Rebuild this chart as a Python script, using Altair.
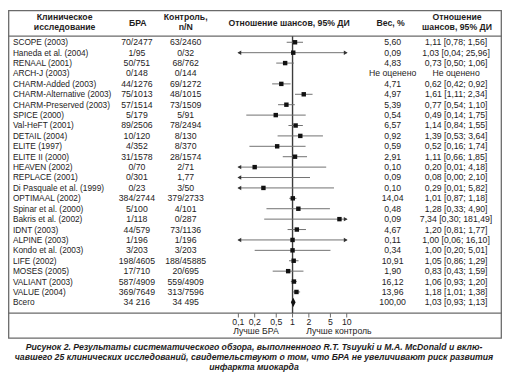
import altair as alt
import pandas as pd
import numpy as np

# ---------------- data ----------------
studies = ["SCOPE (2003)", "Haneda et al. (2004)", "RENAAL (2001)", "ARCH-J (2003)",
           "CHARM-Added (2003)", "CHARM-Alternative (2003)", "CHARM-Preserved (2003)",
           "SPICE (2000)", "Val-HeFT (2001)", "DETAIL (2004)", "ELITE (1997)",
           "ELITE II (2000)", "HEAVEN (2002)", "REPLACE (2001)", "Di Pasquale et al. (1999)",
           "OPTIMAAL (2002)", "Spinar et al. (2000)", "Bakris et al. (2002)", "IDNT (2003)",
           "ALPINE (2003)", "Kondo et al. (2003)", "LIFE (2002)", "MOSES (2005)",
           "VALIANT (2003)", "VALUE (2004)", "Всего"]
bra = ["70/2477", "1/95", "50/751", "0/148", "44/1276", "75/1013", "57/1514", "5/179",
       "89/2506", "10/120", "4/352", "31/1578", "0/70", "0/301", "0/23", "384/2744",
       "5/100", "1/118", "44/579", "1/196", "3/203", "198/4605", "17/710", "587/4909",
       "369/7649", "34 216"]
ctrl = ["63/2460", "0/32", "68/762", "0/144", "69/1272", "48/1015", "73/1509", "5/91",
        "78/2494", "8/130", "8/370", "28/1574", "2/71", "1,77", "3/50", "379/2733",
        "4/101", "0/287", "73/1136", "1/196", "3/203", "188/45885", "20/695", "559/4909",
        "313/7596", "34 495"]
weight = ["5,60", "0,09", "4,83", "Не оценено", "4,71", "4,97", "5,39", "0,54", "6,57",
          "0,92", "0,59", "2,91", "0,10", "0,09", "0,10", "14,04", "0,48", "0,09", "4,67",
          "0,11", "0,34", "10,91", "1,90", "16,12", "13,96", "100,00"]
or_text = ["1,11 [0,78; 1,56]", "1,03 [0,04; 25,96]", "0,73 [0,50; 1,06]", "Не оценено",
           "0,62 [0,42; 0,92]", "1,61 [1,11; 2,34]", "0,77 [0,54; 1,10]", "0,49 [0,14; 1,75]",
           "1,14 [0,84; 1,55]", "1,39 [0,53; 3,64]", "0,52 [0,16; 1,74]", "1,11 [0,66; 1,85]",
           "0,20 [0,01; 4,18]", "0,08 [0,00; 2,10]", "0,29 [0,01; 5,82]", "1,01 [0,87; 1,18]",
           "1,28 [0,33; 4,90]", "7,34 [0,30; 181,49]", "1,20 [0,81; 1,77]",
           "1,00 [0,06; 16,10]", "1,00 [0,20; 5,01]", "1,05 [0,86; 1,29]",
           "0,83 [0,43; 1,59]", "1,06 [0,93; 1,20]", "1,18 [1,01; 1,38]", "1,03 [0,93; 1,13]"]
or_est = [1.11, 1.03, 0.73, None, 0.62, 1.61, 0.77, 0.49, 1.14, 1.39, 0.52, 1.11, 0.20,
          0.08, 0.29, 1.01, 1.28, 7.34, 1.20, 1.00, 1.00, 1.05, 0.83, 1.06, 1.18, 1.03]
or_lo = [0.78, 0.04, 0.50, None, 0.42, 1.11, 0.54, 0.14, 0.84, 0.53, 0.16, 0.66, 0.01,
         0.00, 0.01, 0.87, 0.33, 0.30, 0.81, 0.06, 0.20, 0.86, 0.43, 0.93, 1.01, 0.93]
or_hi = [1.56, 25.96, 1.06, None, 0.92, 2.34, 1.10, 1.75, 1.55, 3.64, 1.74, 1.85, 4.18,
         2.10, 5.82, 1.18, 4.90, 181.49, 1.77, 16.10, 5.01, 1.29, 1.59, 1.20, 1.38, 1.13]
axis_ticks = [0.1, 0.2, 0.5, 1, 2, 5, 10]
axis_labels = ["0,1", "0,2", "0,5", "1", "2", "5", "10"]
axis_domain = [0.1, 10]
caption = ["Рисунок 2. Результаты систематического обзора, выполненного R.T. Tsuyuki и M.A. McDonald и вклю-",
           "чавшего 25 клинических исследований, свидетельствуют о том, что БРА не увеличивают риск развития",
           "инфаркта миокарда"]

# ---------------- layout helpers ----------------
W, H = 500, 366
def X(r):
    return (r - 2) * 0.988
def Y(r):
    return (r - 1) * 0.975

FONT = "Liberation Sans"
INK = "#1e1c1c"
LINE = "#6a6a6a"
NUM = 8.8

n = len(studies)
df = pd.DataFrame({"row": list(range(n)), "study": studies, "bra": bra, "ctrl": ctrl,
                   "weight": weight, "ortext": or_text,
                   "est": or_est, "lo": or_lo, "hi": or_hi})
df["is_total"] = df["study"] == "Всего"
lo_b, hi_b = axis_domain
f = df.dropna(subset=["est"]).copy()
f["lo_c"] = f["lo"].clip(lower=lo_b, upper=hi_b)
f["hi_c"] = f["hi"].clip(lower=lo_b, upper=hi_b)
f["larrow"] = lo_b
f["rarrow"] = hi_b

xs = alt.Scale(type="log", domain=axis_domain, range=[X(238), X(349)], nice=False)
ys = alt.Scale(domain=[0, n - 1], range=[Y(34.3), Y(304.3)], nice=False, zero=False)
yenc = alt.Y("row:Q", scale=ys, axis=None)

base = alt.Chart(df)

def col(field, x, align, size=NUM):
    return base.mark_text(align=align, baseline="middle", font=FONT, fontSize=size,
                          color=INK).encode(x=alt.value(x), y=yenc, text=f"{field}:N")

def label(txt, x, y, size=NUM, bold=False, italic=False, align="center"):
    kw = dict(align=align, baseline="middle", font=FONT, fontSize=size, color=INK)
    if bold:
        kw["fontWeight"] = "bold"
    if italic:
        kw["fontStyle"] = "italic"
    return alt.Chart(pd.DataFrame({"t": [txt]})).mark_text(**kw).encode(
        x=alt.value(x), y=alt.value(y), text="t:N")

one = pd.DataFrame({"a": [0]})

# table frame and lines
frame = alt.Chart(one).mark_rect(fillOpacity=0, stroke=LINE, strokeWidth=1.3).encode(
    x=alt.value(0.7), x2=alt.value(W - 0.7), y=alt.value(Y(1.5)), y2=alt.value(Y(341.5)))
hline1 = alt.Chart(one).mark_rule(color=LINE, strokeWidth=1.3).encode(
    x=alt.value(0), x2=alt.value(W), y=alt.value(Y(28)))
hline2 = alt.Chart(one).mark_rule(color=LINE, strokeWidth=1.2).encode(
    x=alt.value(0), x2=alt.value(W), y=alt.value(Y(315.5)))

# forest
vline = alt.Chart(one).mark_rule(color="#3c3c3c", strokeWidth=1.4).encode(
    x=alt.X(datum=1, type="quantitative", scale=xs, axis=None),
    y=alt.value(Y(28)), y2=alt.value(Y(315.5)))
fb = alt.Chart(f)
ci = fb.transform_filter("!datum.is_total").mark_rule(color="#707070", strokeWidth=1).encode(
    x=alt.X("lo_c:Q", scale=xs, axis=None), x2="hi_c:Q", y=yenc)
squares = fb.transform_filter(
    f"!datum.is_total && datum.est >= {lo_b} && datum.est <= {hi_b}").mark_square(
    size=20, color="#111111", opacity=1).encode(
    x=alt.X("est:Q", scale=xs, axis=None), y=yenc)
larr = fb.transform_filter(f"datum.lo < {lo_b}").mark_point(
    shape="triangle-left", filled=True, size=20, color="#333333", opacity=1, xOffset=1).encode(
    x=alt.X("larrow:Q", scale=xs, axis=None), y=yenc)
rarr = fb.transform_filter(f"datum.hi > {hi_b}").mark_point(
    shape="triangle-right", filled=True, size=20, color="#333333", opacity=1, xOffset=-1).encode(
    x=alt.X("rarrow:Q", scale=xs, axis=None), y=yenc)
diamond = fb.transform_filter("datum.is_total").mark_point(
    shape="M0,-1L0.52,0L0,1L-0.52,0Z", filled=True, size=85, color="#111111", opacity=1).encode(
    x=alt.X("est:Q", scale=xs, axis=None), y=yenc)

# axis ticks & labels
tdf = pd.DataFrame({"t": axis_ticks, "lab": axis_labels})
ticks = alt.Chart(tdf).mark_rule(color=LINE, strokeWidth=1).encode(
    x=alt.X("t:Q", scale=xs, axis=None), y=alt.value(Y(315.5)), y2=alt.value(Y(320)))
tlabels = alt.Chart(tdf).mark_text(baseline="middle", font=FONT, fontSize=NUM, color=INK).encode(
    x=alt.X("t:Q", scale=xs, axis=None), y=alt.value(Y(324.5)), text="lab:N")

layers = [
    frame, hline1, hline2,
    col("study", X(7), "left", 8.4),
    col("bra", X(134), "center"),
    col("ctrl", X(184), "center"),
    col("weight", X(396), "center"),
    col("ortext", X(461), "center"),
    label("Клиническое", X(60), Y(8.5), bold=True),
    label("исследование", X(60), Y(19), bold=True),
    label("БРА", X(135), Y(14.5), bold=True),
    label("Контроль,", X(184), Y(8.5), bold=True),
    label("n/N", X(184), Y(19), bold=True),
    label("Отношение шансов, 95% ДИ", X(290), Y(14.5), bold=True),
    label("Вес, %", X(394), Y(14.5), bold=True),
    label("Отношение", X(462), Y(8.5), bold=True),
    label("шансов, 95% ДИ", X(462), Y(19), bold=True),
    vline, ci, squares, larr, rarr, diamond, ticks, tlabels,
    label("Лучше БРА", X(256), Y(334)),
    label("Лучше контроль", X(341), Y(334)),
]
for i, line in enumerate(caption):
    layers.append(label(line, X(254), Y(351 + 10 * i), size=8.8, bold=True, italic=True))

chart = alt.layer(*layers).properties(
    width=W, height=H, padding=0, autosize="none"
).configure_view(stroke=None)

chart.save("out.html", embed_options={"renderer": "svg", "actions": False})
